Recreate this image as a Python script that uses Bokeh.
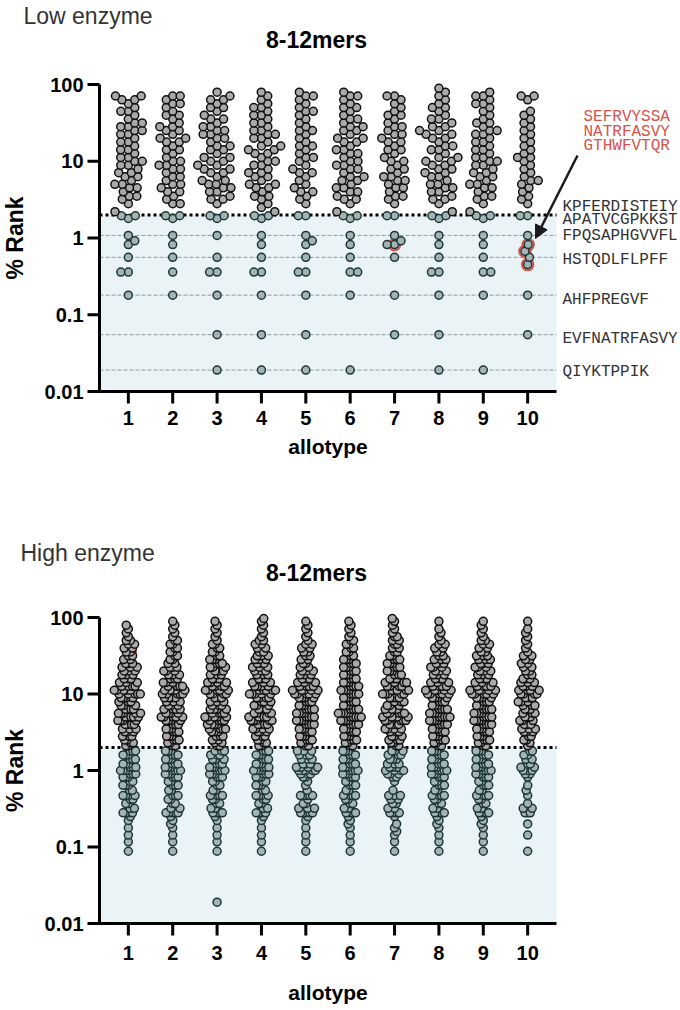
import math
from bokeh.plotting import figure
from bokeh.models import (Range1d, BoxAnnotation, Arrow, NormalHead, ColumnDataSource)
from bokeh.layouts import column
from bokeh.embed import file_html
from bokeh.resources import INLINE
from bokeh.core.properties import value

# ---------------- DATA ----------------
allotypes = [1, 2, 3, 4, 5, 6, 7, 8, 9, 10]
y_ticks = [0.01, 0.1, 1, 10, 100]
y_tick_labels = ["0.01", "0.1", "1", "10", "100"]
threshold = 2.0

# Low enzyme: % rank levels above threshold and counts per allotype
low_levels = [2.2, 2.5, 2.8, 3.2, 3.5, 4.0, 4.5, 5.0, 5.6, 6.3, 7.1, 7.9, 8.9, 10, 11.2, 12.6,
              14.1, 15.8, 17.8, 20, 22.4, 25.1, 28.2, 31.6, 35.5, 39.8, 44.7, 50.1, 56.2, 63.1,
              70.8, 79.4, 89.1]
low_counts = [
    [1,0,1,1,2,1,2,2,1,2,2,1,2,2,2,1,2,1,2,1,2,2,2,2,1,1,2,1,1,2,2,0,0],
    [0,0,2,1,1,2,1,2,1,2,1,2,2,2,1,1,2,1,2,2,1,2,2,1,1,2,1,1,2,1,2,0,0],
    [0,0,1,2,1,2,2,2,2,1,2,2,2,2,2,1,2,2,1,2,2,2,2,1,2,1,1,2,1,2,1,1,0],
    [1,1,1,1,2,1,2,2,1,2,2,1,2,2,1,2,2,2,1,2,2,2,1,2,1,2,1,2,1,1,1,1,0],
    [0,0,1,1,1,2,1,1,1,1,2,1,1,1,2,1,1,2,1,1,1,2,1,1,1,1,2,1,1,1,2,1,0],
    [1,0,1,2,1,2,2,1,2,2,1,2,2,2,1,2,2,1,2,2,1,2,2,1,2,1,1,2,1,1,2,1,0],
    [0,0,1,1,2,1,2,1,2,2,1,2,1,2,1,1,2,1,2,1,2,1,2,1,1,2,1,1,1,1,2,0,0],
    [1,0,1,2,1,2,2,2,1,2,2,2,2,2,2,1,2,2,1,2,2,2,2,1,2,1,1,2,1,1,1,1,1],
    [1,0,1,1,2,1,2,2,1,2,2,1,2,2,2,1,2,1,2,1,2,2,1,2,1,1,1,1,2,1,2,1,0],
    [0,0,1,1,1,1,1,1,2,1,1,1,1,1,2,1,1,1,1,1,1,1,1,1,1,1,1,0,0,1,2,0,0],
]
# Low enzyme: binders (% rank <= 2) per allotype
low_binders = [
    [1.95, 1.95, 1.8, 1.08, 0.92, 0.82, 0.56, 0.36, 0.36, 0.18],
    [1.95, 1.95, 1.8, 1.08, 0.82, 0.56, 0.36, 0.18],
    [1.95, 1.95, 1.8, 1.08, 0.56, 0.36, 0.36, 0.18, 0.055, 0.019],
    [1.95, 1.95, 1.8, 1.08, 0.82, 0.56, 0.36, 0.36, 0.18, 0.055, 0.019],
    [1.95, 1.95, 1.08, 0.92, 0.82, 0.56, 0.36, 0.36, 0.18, 0.055, 0.019],
    [1.95, 1.95, 1.8, 1.08, 0.82, 0.56, 0.36, 0.36, 0.18, 0.019],
    [1.95, 1.95, 1.08, 0.92, 0.82, 0.82, 0.56, 0.18, 0.055],
    [1.95, 1.95, 1.8, 1.08, 0.82, 0.56, 0.36, 0.36, 0.18, 0.055, 0.019],
    [1.95, 1.95, 1.8, 1.08, 0.82, 0.56, 0.36, 0.36, 0.18, 0.019],
    [1.95, 1.95, 1.08, 0.82, 0.67, 0.56, 0.45, 0.18, 0.055],
]
low_red = [(7, 0.82), (10, 0.82), (10, 0.67), (10, 0.45)]

peptide_names = ["KPFERDISTEIY", "APATVCGPKKST", "FPQSAPHGVVFL", "HSTQDLFLPFF",
                 "AHFPREGVF", "EVFNATRFASVY", "QIYKTPPIK"]
peptide_label_y = [2.5, 1.74, 1.05, 0.51, 0.158, 0.049, 0.0177]
peptide_lines = [1.08, 0.56, 0.18, 0.055, 0.019]
red_names = ["SEFRVYSSA", "NATRFASVY", "GTHWFVTQR"]
red_label_y = [37.2, 23.7, 15.6]

# High enzyme: levels and counts per allotype
high_levels = [2.1, 2.3, 2.5, 2.8, 3.2, 3.5, 4.0, 4.5, 5.0, 5.6, 6.3, 7.1, 7.9, 8.9, 10, 11.2,
               12.6, 14.1, 15.8, 17.8, 20, 22.4, 25.1, 28.2, 31.6, 35.5, 39.8, 44.7, 50.1,
               56.2, 63.1, 70.8, 79.4, 89.1, 97]
high_counts = [
    [2,2,2,3,3,3,4,4,5,5,4,3,3,4,5,5,4,3,3,3,3,3,3,2,2,2,2,2,2,1,1,1,1,0,0],
    [2,2,3,3,3,3,3,4,5,4,4,3,3,4,5,5,4,3,3,3,3,3,2,2,2,2,2,2,2,1,1,1,1,1,0],
    [2,2,2,3,3,4,4,4,5,4,4,3,3,3,4,5,4,4,3,3,3,3,3,3,2,2,2,2,1,1,1,1,1,1,0],
    [2,2,2,3,3,4,4,5,5,4,4,3,3,4,5,5,4,3,3,3,3,3,3,3,3,2,2,2,2,1,1,1,1,1,1],
    [2,2,3,3,3,3,4,4,4,4,4,3,3,4,5,5,4,3,3,3,3,2,2,2,2,2,2,2,1,1,1,1,1,1,0],
    [2,2,3,3,3,3,4,4,5,5,4,3,3,3,4,4,4,3,3,3,3,3,3,3,2,2,2,2,2,1,1,1,1,1,0],
    [2,2,3,3,3,4,4,5,5,5,4,3,3,4,5,5,4,4,3,3,3,3,3,3,2,2,2,2,2,2,1,1,1,1,1],
    [2,2,3,3,3,3,4,4,5,4,4,3,3,4,5,5,4,3,3,3,3,3,3,3,2,2,2,2,1,1,1,1,0,1,0],
    [2,2,3,3,3,3,4,4,4,4,4,3,3,4,5,5,4,3,3,3,3,3,3,3,3,2,2,2,2,1,1,1,1,1,0],
    [1,1,2,2,3,3,3,3,3,3,3,3,3,3,4,4,3,3,3,2,2,2,2,2,2,1,1,1,1,1,1,1,0,1,0],
]
high_bind_levels = [0.019, 0.088, 0.1, 0.117, 0.13, 0.143, 0.16, 0.178, 0.2, 0.222, 0.25, 0.28,
                    0.32, 0.37, 0.42, 0.47, 0.55, 0.64, 0.72, 0.82, 0.9, 1.0, 1.1, 1.22, 1.4,
                    1.6, 1.8]
high_bind_counts = [
    [0,1,0,1,0,1,0,1,0,1,1,4,2,2,2,4,2,3,2,3,3,4,3,3,3,3,3],
    [0,1,0,1,0,1,0,1,1,1,1,5,2,2,2,3,2,3,2,3,3,4,3,3,3,3,3],
    [1,1,0,1,0,1,0,1,0,1,1,4,2,2,2,4,2,2,2,3,3,4,3,3,3,3,3],
    [0,1,0,1,0,1,0,1,0,1,1,4,2,2,2,4,2,3,2,3,3,4,3,3,3,3,3],
    [0,1,0,1,0,1,0,1,0,1,1,5,3,2,1,5,1,1,1,2,3,5,4,3,3,3,3],
    [0,1,0,1,0,1,0,1,1,1,1,4,2,2,2,4,2,3,2,3,3,4,3,3,3,3,3],
    [0,1,0,1,0,1,1,1,1,0,1,4,2,2,2,3,1,0,1,2,3,4,3,3,3,3,3],
    [0,1,0,1,0,1,0,1,1,1,1,4,2,2,2,4,2,3,2,3,3,4,3,3,3,3,3],
    [0,1,0,1,0,1,0,1,1,1,1,4,2,2,2,4,2,3,2,3,3,4,3,3,3,3,3],
    [0,1,0,0,0,1,0,0,1,0,0,3,2,1,0,1,1,1,0,1,2,3,2,2,2,2,2],
]
high_red = [(1, 35.5)]

# ---------------- STYLE / LAYOUT ----------------
FONT = "Liberation Sans"
MONO = "Liberation Mono"
GRAY_FILL, GRAY_LINE = "#a9a9a9", "#111111"
BIND_FILL, BIND_LINE = "#a2b4b4", "#1f3636"
SHADE = "#eaf3f6"
RED = "#d9534a"
W = 680
AX_L, AX_R = 99, 556          # pixel x of axis start / end inside each figure
XA0, XA1 = 0.35, 10.65        # data x at those pixels
XS = (AX_R - AX_L) / (XA1 - XA0)


class Panel:
    def __init__(self, height, top100, bot001):
        self.h, self.t, self.b = height, top100, bot001
        self.ppd = (bot001 - top100) / 4.0
        lo = -2 - (height - bot001) / self.ppd
        hi = 2 + top100 / self.ppd
        self.p = figure(width=W, height=height, x_range=Range1d(self.xd(0), self.xd(W)),
                        y_range=Range1d(10 ** lo, 10 ** hi), y_axis_type="log",
                        x_axis_location=None, y_axis_location=None,
                        output_backend="svg", toolbar_location=None,
                        min_border=0, min_border_left=0, min_border_right=0,
                        min_border_top=0, min_border_bottom=0)
        self.p.outline_line_color = None
        self.p.grid.visible = False

    def xd(self, px):
        return XA0 + (px - AX_L) / XS

    def yd(self, py):
        return 10 ** (2 - (py - self.t) / self.ppd)


def swarm(vals, px_per_decade, d):
    placed, offs = [], []
    for i, v in enumerate(vals):
        y = math.log10(v) * px_per_decade
        near = [(px, py) for px, py in placed if abs(py - y) < d]
        cands = [0.0]
        for px, py in near:
            dx = math.sqrt(max(d * d - (py - y) ** 2, 0.0))
            cands += [px + dx, px - dx]
        s = 1 if i % 2 == 0 else -1
        cands.sort(key=lambda c: (round(abs(c), 4), s * c))
        chosen = cands[-1]
        for c in cands:
            if all((c - px) ** 2 + (y - py) ** 2 >= d * d - 1e-6 for px, py in near):
                chosen = c
                break
        placed.append((chosen, y))
        offs.append(chosen)
    return offs


def decorate(P):
    p = P.p
    p.add_layout(BoxAnnotation(left=XA0, right=XA1, bottom=0.01, top=threshold,
                               fill_color=SHADE, fill_alpha=1, line_color=None,
                               level="underlay"))
    p.segment(x0=[XA0], y0=[threshold], x1=[XA1], y1=[threshold], line_color="black",
              line_width=3, line_dash="3 3")


def axes(P, xlab_y, axlab_y):
    p = P.p
    tk = 12
    # y axis
    p.segment(x0=[XA0], y0=[0.01], x1=[XA0], y1=[100], line_color="black", line_width=3)
    p.segment(x0=[P.xd(AX_L - tk)] * 5, y0=y_ticks, x1=[XA0] * 5, y1=y_ticks,
              line_color="black", line_width=3)
    p.text(x=[P.xd(AX_L - tk - 4)] * 5, y=y_ticks, text=y_tick_labels,
           text_font=value(FONT), text_font_style="bold", text_font_size="20px",
           text_align="right", text_baseline="middle", text_color="black")
    p.text(x=[P.xd(1)], y=[P.yd((P.t + P.b) / 2)], text=["% Rank"], angle=math.pi / 2,
           text_font=value(FONT), text_font_style="bold", text_font_size="23px",
           text_align="center", text_baseline="top", text_color="black")
    # x axis
    p.segment(x0=[XA0 - 1.5 / XS], y0=[0.01], x1=[XA1], y1=[0.01], line_color="black",
              line_width=3)
    ybot = P.yd(P.b + tk)
    p.segment(x0=allotypes, y0=[0.01] * 10, x1=allotypes, y1=[ybot] * 10,
              line_color="black", line_width=3)
    p.text(x=allotypes, y=[P.yd(xlab_y)] * 10, text=[str(a) for a in allotypes],
           text_font=value(FONT), text_font_style="bold", text_font_size="20px",
           text_align="center", text_baseline="middle", text_color="black")
    p.text(x=[(XA0 + XA1) / 2], y=[P.yd(axlab_y)], text=["allotype"],
           text_font=value(FONT), text_font_style="bold", text_font_size="21px",
           text_align="center", text_baseline="middle", text_color="black")


def draw_points(P, groups, d, red, size, lw, squeeze=1.0):
    p = P.p
    xs, ys, fills, lines = [], [], [], []
    rx, ry = [], []
    for a, vals in zip(allotypes, groups):
        vals = sorted(vals)
        offs = swarm(vals, P.ppd, d)
        red_left = [v for (aa, v) in red if aa == a]
        for v, o in zip(vals, offs):
            x = a + squeeze * o / XS
            xs.append(x)
            ys.append(v)
            if v > threshold:
                fills.append(GRAY_FILL); lines.append(GRAY_LINE)
            else:
                fills.append(BIND_FILL); lines.append(BIND_LINE)
            if v in red_left:
                red_left.remove(v)
                rx.append(x); ry.append(v)
    src = ColumnDataSource(dict(x=xs, y=ys, f=fills, l=lines))
    if rx:
        p.scatter(rx, ry, size=size + 3.5, fill_color=None, line_color=RED, line_width=2)
    p.scatter("x", "y", source=src, size=size, fill_color="f", line_color="l", line_width=lw)


def titles(P, sub, sub_x, sub_y, main_y):
    p = P.p
    p.text(x=[P.xd(sub_x)], y=[P.yd(sub_y)], text=[sub], text_font=value(FONT),
           text_font_size="23px", text_color="#333333", text_align="left",
           text_baseline="middle")
    p.text(x=[P.xd(316)], y=[P.yd(main_y)], text=["8-12mers"], text_font=value(FONT),
           text_font_style="bold", text_font_size="23px", text_color="black",
           text_align="center", text_baseline="middle")


# ---------------- TOP PANEL ----------------
P1 = Panel(528, 84, 391)
p1 = P1.p
decorate(P1)
p1.segment(x0=[XA0] * len(peptide_lines), y0=peptide_lines, x1=[XA1] * len(peptide_lines),
           y1=peptide_lines, line_color="#8f9c9c", line_width=1, line_dash="4 2")
low_groups = []
for cnts, binders in zip(low_counts, low_binders):
    vals = []
    for lev, c in zip(low_levels, cnts):
        vals += [lev] * c
    low_groups.append(vals + binders)
draw_points(P1, low_groups, 7.5, low_red, 8, 1.5)
axes(P1, 417, 446)
p1.text(x=[P1.xd(562)] * len(peptide_names), y=peptide_label_y, text=peptide_names,
        text_font=value(MONO), text_font_size="16px", text_color="#333333",
        text_align="left", text_baseline="middle")
p1.text(x=[P1.xd(583)] * len(red_names), y=red_label_y, text=red_names,
        text_font=value(MONO), text_font_size="16px", text_color=RED,
        text_align="left", text_baseline="middle")
p1.add_layout(Arrow(end=NormalHead(size=13, fill_color="#1a1a1a", line_color="#1a1a1a"),
                    x_start=P1.xd(577), y_start=P1.yd(155), x_end=P1.xd(535),
                    y_end=P1.yd(238), line_width=2.5, line_color="#1a1a1a"))
titles(P1, "Low enzyme", 23, 15, 39)

# ---------------- BOTTOM PANEL ----------------
P2 = Panel(482, 89, 395)
p2 = P2.p
decorate(P2)
high_groups = []
for cnts, bcnts in zip(high_counts, high_bind_counts):
    vals = []
    for lev, c in zip(high_levels, cnts):
        vals += [lev] * c
    for lev, c in zip(high_bind_levels, bcnts):
        vals += [lev] * c
    high_groups.append(vals)
draw_points(P2, high_groups, 6.5, high_red, 8, 1.5, squeeze=0.4)
axes(P2, 424, 464)
titles(P2, "High enzyme", 20, 24, 44)

layout = column(p1, p2)
open("out.html", "w").write(file_html(layout, INLINE))
